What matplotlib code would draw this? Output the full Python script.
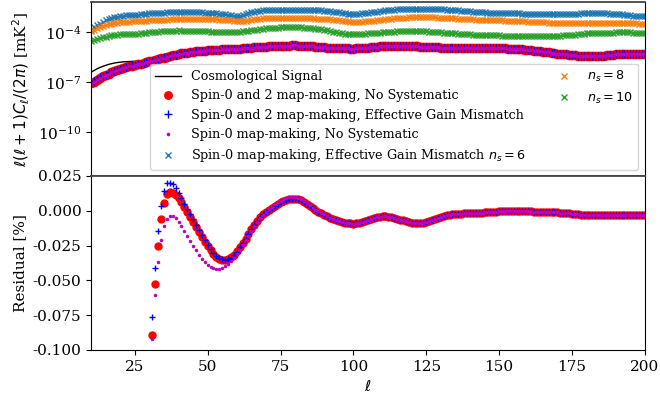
import numpy as np
import matplotlib
matplotlib.use("Agg")
import matplotlib.pyplot as plt
from matplotlib.lines import Line2D

plt.rcParams['font.family'] = ['DejaVu Serif']
plt.rcParams['font.size'] = 11

# multipoles
ell = np.arange(10, 201)

# cosmological signal  [1e-6 mK^2]
signal_1e6 = [
    0.398, 0.50, 0.63, 0.76, 0.89, 1.02, 1.17, 1.29, 1.41, 1.51,
    1.58, 1.66, 1.70, 1.74, 1.78, 1.80, 1.82, 1.86, 1.91, 1.97,
    2.04, 2.16, 2.29, 2.48, 2.69, 2.99, 3.31, 3.67, 4.07, 4.47,
    4.90, 5.25, 5.62, 5.96, 6.31, 6.68, 7.08, 7.41, 7.76, 8.04,
    8.32, 8.55, 8.79, 9.03, 9.29, 9.55, 9.73, 9.91, 10.1, 10.3,
    10.5, 10.7, 11.0, 11.2, 11.5, 11.7, 12.1, 12.4, 12.8, 13.1,
    13.5, 13.8, 14.1, 14.5, 14.8, 15.1, 15.3, 15.4, 15.6, 15.7,
    15.8, 15.6, 15.3, 15.0, 14.7, 14.5, 14.0, 13.6, 13.1, 12.7,
    12.3, 12.0, 11.6, 11.3, 11.0, 10.7, 10.7, 10.6, 10.6, 10.5,
    10.5, 10.8, 11.1, 11.4, 11.7, 12.0, 12.5, 12.9, 13.4, 13.9,
    14.5, 14.7, 15.0, 15.3, 15.6, 15.8, 15.6, 15.4, 15.2, 15.0,
    14.8, 14.5, 14.1, 13.8, 13.5, 13.2, 12.9, 12.7, 12.5, 12.2,
    12.0, 11.9, 11.7, 11.5, 11.4, 11.2, 11.2, 11.1, 11.1, 11.0,
    11.0, 11.0, 11.0, 11.0, 11.0, 11.0, 11.0, 11.0, 11.0, 11.0,
    11.0, 10.8, 10.6, 10.4, 10.2, 10.0, 9.7, 9.4, 9.1, 8.8,
    8.5, 8.1, 7.8, 7.4, 7.1, 6.8, 6.4, 6.1, 5.8, 5.5,
    5.2, 5.0, 4.8, 4.6, 4.4, 4.2, 4.04, 3.91, 3.78, 3.66,
    3.55, 3.60, 3.65, 3.70, 3.75, 3.80, 3.96, 4.13, 4.31, 4.49,
    4.68, 4.74, 4.81, 4.88, 4.94, 5.01, 4.97, 4.92, 4.88, 4.83,
    4.79]

# residuals: spin-0 and 2, no systematic
res_red = [
    -0.78, -0.78, -0.77, -0.76, -0.75, -0.74, -0.72, -0.70, -0.67, -0.64,
    -0.61, -0.57, -0.53, -0.49, -0.45, -0.41, -0.36, -0.31, -0.25, -0.19,
    -0.135, -0.0895, -0.053, -0.0256, -0.0062, 0.0058, 0.0122, 0.0134, 0.0128, 0.0112,
    0.0092, 0.0060, 0.0026, -0.0010, -0.0046, -0.0080, -0.0118, -0.0155, -0.0192, -0.0226,
    -0.0257, -0.0285, -0.0310, -0.0330, -0.0344, -0.0352, -0.0354, -0.0348, -0.0336, -0.0316,
    -0.0292, -0.0264, -0.0234, -0.0200, -0.0166, -0.0132, -0.0100, -0.0072, -0.0048, -0.0026,
    -0.0008, 0.0008, 0.0022, 0.0036, 0.0048, 0.0060, 0.0070, 0.0078, 0.0084, 0.0087,
    0.0087, 0.0082, 0.0074, 0.0062, 0.0048, 0.0032, 0.0018, 0.0006, -0.0006, -0.0017,
    -0.0028, -0.0039, -0.0050, -0.0059, -0.0067, -0.0074, -0.0080, -0.0085, -0.0089, -0.0091,
    -0.0092, -0.0091, -0.0088, -0.0083, -0.0076, -0.0068, -0.0060, -0.0053, -0.0047, -0.0043,
    -0.0041, -0.0041, -0.0043, -0.0047, -0.0052, -0.0058, -0.0064, -0.0070, -0.0076, -0.0081,
    -0.0085, -0.0088, -0.0089, -0.0088, -0.0085, -0.0080, -0.0073, -0.0066, -0.0058, -0.0051,
    -0.0044, -0.0038, -0.0033, -0.0029, -0.0026, -0.0024, -0.0022, -0.0021, -0.0020, -0.0019,
    -0.0018, -0.0017, -0.0016, -0.0015, -0.0014, -0.0012, -0.0011, -0.0009, -0.0008, -0.0006,
    -0.0005, -0.0003, -0.0002, -0.0001, 0.0, 0.0, 0.0, -0.0001, -0.0002, -0.0003,
    -0.0004, -0.0005, -0.0006, -0.0007, -0.0008, -0.0009, -0.0010, -0.0010, -0.0011, -0.0011,
    -0.0012, -0.0013, -0.0015, -0.0017, -0.0020, -0.0022, -0.0025, -0.0027, -0.0029, -0.0031,
    -0.0032, -0.0033, -0.0033, -0.0033, -0.0033, -0.0033, -0.0033, -0.0033, -0.0033, -0.0033,
    -0.0033, -0.0033, -0.0033, -0.0033, -0.0033, -0.0033, -0.0033, -0.0033, -0.0033, -0.0033,
    -0.0033]

# residuals: spin-0 and 2, effective gain mismatch (l = 10..60; beyond it overlaps red)
res_blue_low = [
    -0.76, -0.76, -0.75, -0.74, -0.73, -0.72, -0.70, -0.68, -0.65, -0.62,
    -0.59, -0.55, -0.51, -0.47, -0.43, -0.39, -0.34, -0.29, -0.23, -0.17,
    -0.12, -0.0764, -0.041, -0.0148, 0.0036, 0.0141, 0.0197, 0.0201, 0.0190, 0.0160,
    0.0125, 0.0088, 0.0050, 0.0014, -0.0025, -0.0062, -0.0100, -0.0140, -0.0178, -0.0214,
    -0.0247, -0.0277, -0.0303, -0.0325, -0.0340, -0.0350, -0.0353, -0.0349, -0.0338, -0.0320,
    -0.0296]
res_blue = res_blue_low + res_red[len(res_blue_low):]

# residuals: spin-0 only, no systematic (l = 31..90 differ; elsewhere overlaps red)
res_mag_mid = [
    -0.092, -0.0606, -0.037, -0.0213, -0.0112, -0.0060, -0.0040, -0.0040, -0.0055,
    -0.0080, -0.0110, -0.0145, -0.0180, -0.0215, -0.0250, -0.0284, -0.0315, -0.0345, -0.0370,
    -0.0390, -0.0405, -0.0415, -0.0418, -0.0416, -0.0410, -0.0398, -0.0382, -0.0362, -0.0338,
    -0.0310, -0.0280, -0.0248, -0.0214, -0.0180, -0.0146, -0.0113, -0.0082, -0.0054, -0.0030,
    -0.0008, 0.0012, 0.0030, 0.0046, 0.0060, 0.0072, 0.0082, 0.0090, 0.0096, 0.0099,
    0.0098, 0.0093, 0.0084, 0.0071, 0.0055, 0.0038, 0.0022, 0.0008, -0.0005, -0.0016, -0.0027]
res_mag = res_red[:21] + res_mag_mid + res_red[21 + len(res_mag_mid):]

# spin-0 effective gain mismatch spectra
ns6_1e3 = [
    0.14, 0.19, 0.25, 0.32, 0.41, 0.51, 0.62, 0.69, 0.76, 0.82,
    0.87, 0.92, 0.98, 1.01, 1.04, 1.07, 1.12, 1.17, 1.22, 1.27,
    1.32, 1.35, 1.38, 1.42, 1.45, 1.48, 1.50, 1.51, 1.52, 1.54,
    1.55, 1.56, 1.57, 1.58, 1.58, 1.58, 1.56, 1.53, 1.50, 1.48,
    1.45, 1.41, 1.36, 1.32, 1.27, 1.23, 1.16, 1.09, 1.02, 0.96,
    0.93, 0.94, 1.00, 1.14, 1.32, 1.51, 1.63, 1.75, 1.87, 1.99,
    2.10, 2.12, 2.14, 2.16, 2.18, 2.20, 2.20, 2.20, 2.20, 2.20,
    2.20, 2.18, 2.16, 2.14, 2.12, 2.10, 2.07, 2.04, 2.00, 1.97,
    1.94, 1.85, 1.76, 1.68, 1.59, 1.51, 1.43, 1.36, 1.28, 1.21,
    1.15, 1.20, 1.25, 1.30, 1.36, 1.41, 1.50, 1.59, 1.68, 1.77,
    1.86, 1.95, 2.04, 2.13, 2.22, 2.30, 2.34, 2.38, 2.42, 2.46,
    2.50, 2.50, 2.50, 2.50, 2.50, 2.50, 2.46, 2.42, 2.38, 2.34,
    2.30, 2.24, 2.18, 2.12, 2.06, 2.00, 1.95, 1.90, 1.84, 1.79,
    1.74, 1.69, 1.65, 1.60, 1.56, 1.51, 1.48, 1.46, 1.43, 1.41,
    1.38, 1.37, 1.36, 1.34, 1.33, 1.32, 1.31, 1.30, 1.29, 1.27,
    1.26, 1.26, 1.26, 1.25, 1.25, 1.25, 1.24, 1.24, 1.24, 1.23,
    1.23, 1.24, 1.25, 1.26, 1.27, 1.28, 1.28, 1.29, 1.30, 1.31,
    1.32, 1.33, 1.34, 1.35, 1.37, 1.38, 1.35, 1.32, 1.29, 1.26,
    1.23, 1.19, 1.14, 1.10, 1.05, 1.00, 0.97, 0.94, 0.92, 0.89,
    0.87]

ns8_1e4 = [
    1.10, 1.37, 1.66, 1.93, 2.2, 2.55, 2.9, 3.1, 3.3, 3.55,
    3.8, 3.95, 4.1, 4.2, 4.3, 4.4, 4.5, 4.6, 4.75, 4.9,
    5.0, 5.1, 5.2, 5.3, 5.4, 5.5, 5.6, 5.7, 5.75, 5.8,
    5.9, 5.95, 6.0, 6.1, 6.15, 6.2, 6.15, 6.1, 6.1, 6.05,
    6.0, 5.9, 5.75, 5.65, 5.5, 5.4, 5.25, 5.1, 4.95, 4.8,
    4.7, 4.7, 4.7, 4.9, 5.2, 5.4, 5.7, 6.0, 6.3, 6.5,
    6.8, 6.9, 7.0, 7.05, 7.1, 7.2, 7.2, 7.2, 7.15, 7.1,
    7.1, 7.0, 6.9, 6.8, 6.7, 6.6, 6.5, 6.45, 6.35, 6.3,
    6.2, 5.95, 5.7, 5.5, 5.25, 5.0, 4.75, 4.5, 4.3, 4.05,
    3.8, 3.9, 4.05, 4.2, 4.3, 4.4, 4.6, 4.8, 5.0, 5.2,
    5.4, 5.7, 6.0, 6.2, 6.5, 6.8, 6.95, 7.1, 7.3, 7.45,
    7.6, 7.65, 7.7, 7.8, 7.85, 7.9, 7.75, 7.6, 7.5, 7.35,
    7.2, 7.1, 6.95, 6.85, 6.7, 6.6, 6.45, 6.25, 6.1, 5.95,
    5.8, 5.7, 5.55, 5.45, 5.3, 5.2, 5.15, 5.1, 5.1, 5.05,
    5.0, 4.95, 4.9, 4.8, 4.75, 4.7, 4.6, 4.5, 4.4, 4.3,
    4.2, 4.1, 4.05, 3.95, 3.9, 3.8, 3.75, 3.7, 3.65, 3.6,
    3.55, 3.55, 3.5, 3.5, 3.45, 3.45, 3.45, 3.45, 3.45, 3.45,
    3.45, 3.47, 3.49, 3.51, 3.53, 3.55, 3.53, 3.51, 3.49, 3.47,
    3.45, 3.42, 3.39, 3.36, 3.33, 3.3, 3.28, 3.26, 3.24, 3.22,
    3.2]

ns10_1e5 = [
    2.75, 3.2, 3.6, 4.2, 4.8, 5.3, 5.9, 6.3, 6.8, 7.0,
    7.2, 7.3, 7.45, 7.55, 7.7, 7.8, 8.1, 8.5, 8.8, 9.2,
    9.5, 9.9, 10.4, 10.8, 11.3, 11.7, 11.9, 12.1, 12.2, 12.4,
    12.6, 12.4, 12.2, 12.1, 11.9, 11.7, 11.6, 11.4, 11.3, 11.1,
    11.0, 10.8, 10.7, 10.5, 10.4, 10.2, 10.2, 10.2, 10.2, 10.2,
    10.2, 10.6, 11.1, 11.6, 12.1, 12.6, 13.4, 14.2, 15.0, 15.8,
    16.6, 17.1, 17.6, 18.0, 18.5, 19.0, 19.1, 19.2, 19.3, 19.4,
    19.5, 19.2, 18.8, 18.5, 18.1, 17.8, 16.9, 16.1, 15.2, 14.4,
    13.5, 12.6, 11.7, 10.8, 9.8, 8.9, 8.6, 8.2, 7.9, 7.5,
    7.2, 7.4, 7.6, 7.9, 8.1, 8.3, 8.5, 8.8, 9.0, 9.3,
    9.5, 9.8, 10.1, 10.4, 10.7, 11.0, 11.1, 11.3, 11.4, 11.6,
    11.7, 11.6, 11.4, 11.3, 11.1, 11.0, 10.7, 10.4, 10.1, 9.8,
    9.5, 9.3, 9.0, 8.8, 8.5, 8.3, 8.1, 7.9, 7.6, 7.4,
    7.2, 7.1, 7.0, 7.0, 6.9, 6.8, 6.7, 6.6, 6.5, 6.4,
    6.3, 6.2, 6.1, 6.1, 6.0, 5.9, 5.8, 5.7, 5.7, 5.6,
    5.5, 5.5, 5.5, 5.5, 5.5, 5.5, 5.6, 5.7, 5.7, 5.8,
    5.9, 6.1, 6.3, 6.4, 6.6, 6.8, 7.1, 7.4, 7.7, 8.0,
    8.3, 8.5, 8.6, 8.8, 8.9, 9.1, 9.2, 9.3, 9.3, 9.4,
    9.5, 9.5, 9.5, 9.5, 9.5, 9.5, 9.4, 9.3, 9.3, 9.2,
    9.1]

labels = ["Cosmological Signal",
          "Spin-0 and 2 map-making, No Systematic",
          "Spin-0 and 2 map-making, Effective Gain Mismatch",
          "Spin-0 map-making, No Systematic",
          "Spin-0 map-making, Effective Gain Mismatch $n_s=6$",
          "$n_s=8$", "$n_s=10$"]

signal = np.array(signal_1e6) * 1e-6
rr = np.array(res_red)
rb = np.array(res_blue)
rm = np.array(res_mag)
ns6 = np.array(ns6_1e3) * 1e-3
ns8 = np.array(ns8_1e4) * 1e-4
ns10 = np.array(ns10_1e5) * 1e-5

fig = plt.figure(figsize=(6.6, 3.94), dpi=100)
gs = fig.add_gridspec(2, 1, left=0.138, right=0.977, top=0.995, bottom=0.112, hspace=0)
ax1 = fig.add_subplot(gs[0])
ax2 = fig.add_subplot(gs[1], sharex=ax1)

h0, = ax1.plot(ell, signal, color='k', lw=1)
h1, = ax1.plot(ell, signal * (1 + rr), 'o', color='red', ms=6, ls='none')
h2, = ax1.plot(ell, signal * (1 + rb), '+', color='blue', ms=6, ls='none')
h3, = ax1.plot(ell, signal * (1 + rm), '.', color='m', ms=3.5, ls='none')
h4, = ax1.plot(ell, ns6, 'x', color='C0', ms=4.5, ls='none')
h5, = ax1.plot(ell, ns8, 'x', color='C1', ms=4.5, ls='none')
h6, = ax1.plot(ell, ns10, 'x', color='C2', ms=4.5, ls='none')
ax1.set_yscale('log')
ax1.set_ylim(10**-12.6, 10**-2.2)
ax1.set_yticks([1e-4, 1e-7, 1e-10])
ax1.yaxis.set_minor_locator(matplotlib.ticker.NullLocator())
ax1.set_ylabel(r"$\ell(\ell+1)C_\ell/(2\pi)$ [mK$^2$]")
ax1.tick_params(axis='x', bottom=False, labelbottom=False)
for sp in ['top', 'bottom']:
    ax1.spines[sp].set_color('#444444')
    ax1.spines[sp].set_linewidth(1.3)
ax2.spines['top'].set_color('#444444')
ax2.spines['top'].set_linewidth(1.3)

blank = Line2D([], [], ls='none')
handles = [h0, h1, h2, h3, h4, h5, h6, blank, blank, blank]
leg_labels = labels + [' ', ' ', ' ']
ax1.legend(handles, leg_labels, ncol=2, loc='lower right', fontsize='small',
           markerscale=0.9)

ax2.plot(ell, rr, 'o', color='red', ms=5, ls='none')
ax2.plot(ell, rb, '+', color='blue', ms=5, ls='none')
ax2.plot(ell, rm, '.', color='m', ms=3, ls='none')
ax2.set_ylim(-0.1, 0.025)
ax2.set_yticks([0.025, 0.0, -0.025, -0.05, -0.075, -0.1])
ax2.yaxis.set_major_formatter(matplotlib.ticker.FormatStrFormatter('%.3f'))
ax2.set_xlim(10, 200)
ax2.set_xticks([25, 50, 75, 100, 125, 150, 175, 200])
ax2.set_ylabel("Residual [%]")
ax2.set_xlabel(r"$\ell$")

fig.savefig("out.png", dpi=100)
